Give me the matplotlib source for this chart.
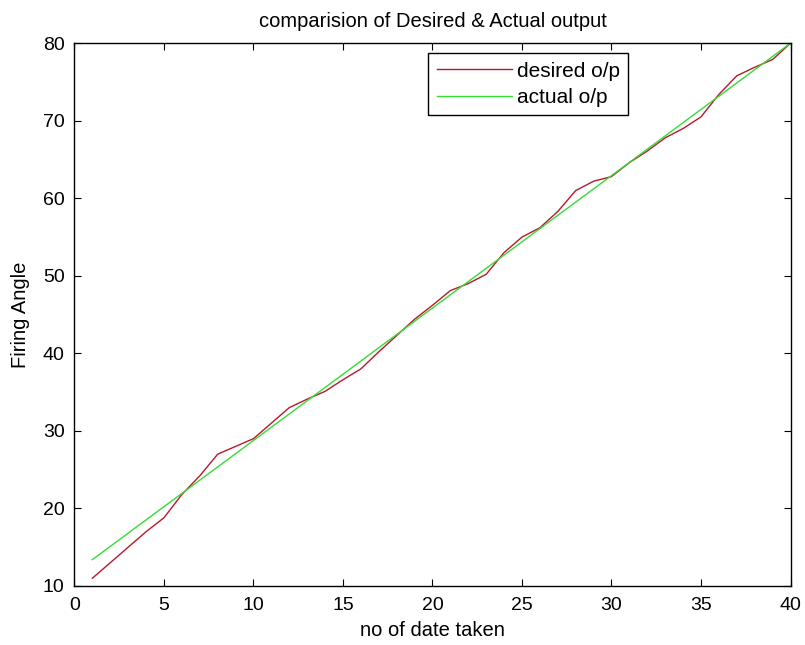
import matplotlib
matplotlib.use("Agg")
import matplotlib.pyplot as plt

plt.rcParams['font.family'] = ['Liberation Sans', 'DejaVu Sans']

# data
samples = list(range(1, 41))
desired = [11.0, 13.0, 15.0, 17.0, 18.8, 21.8, 24.2, 27.0, 28.0, 29.0,
           31.0, 33.0, 34.1, 35.1, 36.6, 38.0, 40.2, 42.3, 44.4, 46.2,
           48.1, 49.0, 50.2, 53.0, 55.0, 56.2, 58.3, 61.0, 62.2, 62.8,
           64.6, 66.1, 67.8, 69.0, 70.5, 73.4, 75.8, 76.9, 77.9, 80.0]
actual_x = [1, 40]
actual_y = [13.4, 80.0]

fig = plt.figure(figsize=(8.05, 6.45), dpi=100)
ax = fig.add_axes([0.0925, 0.0915, 0.8895, 0.8415])

ax.plot(samples, desired, color='#b8182c', linewidth=1.0, label='desired o/p')
ax.plot(actual_x, actual_y, color='#33dd33', linewidth=1.0, label='actual o/p')

ax.set_xlim(0, 40)
ax.set_ylim(10, 80)
ax.set_xticks(range(0, 41, 5))
ax.set_yticks(range(10, 81, 10))
ax.tick_params(direction='in', top=True, right=True, length=5, labelsize=14)
ax.tick_params(axis='x', pad=8)
ax.tick_params(axis='y', pad=7)
for s in ax.spines.values():
    s.set_linewidth(1.0)

ax.set_title('comparision of Desired & Actual output', fontsize=14.5, pad=12)
ax.set_xlabel('no of date taken', fontsize=14.5, labelpad=5)
ax.set_ylabel('Firing Angle', fontsize=14.5, labelpad=9)

leg = ax.legend(loc='upper left', bbox_to_anchor=(0.494, 0.9816), borderaxespad=0,
                fancybox=False, edgecolor='black', framealpha=1, fontsize=15,
                handlelength=3.6, handletextpad=0.25, borderpad=0.4, labelspacing=0.35)
leg.get_frame().set_linewidth(1.0)

fig.savefig('out.png', dpi=100)
